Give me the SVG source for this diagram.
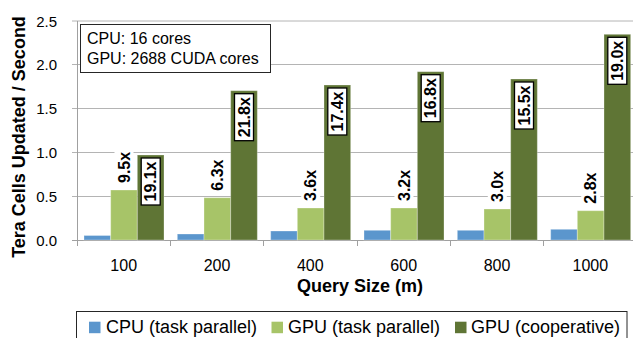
<svg xmlns="http://www.w3.org/2000/svg" width="633" height="338" viewBox="0 0 633 338">
  <style>
    text { font-family: "Liberation Sans", Arial, sans-serif; fill: #000; }
    .grid { stroke: #b4b4b4; stroke-width: 1; }
    .axis { stroke: #a0a0a0; stroke-width: 1; }
    .tick { font-size: 15px; text-anchor: end; }
    .cat { font-size: 16px; text-anchor: middle; }
    .title { font-size: 18px; font-weight: bold; text-anchor: middle; }
    .cpu { fill: #5b96cd; }
    .gtask { fill: #a7c468; }
    .gcoop { fill: #5f7535; }
    .bar { stroke: #ffffff; stroke-opacity: 0.3; stroke-width: 1; }
    .lbl { font-size: 16px; font-weight: bold; dominant-baseline: central; }
    .lblbg { fill: #ffffff; }
    .lblbox { fill: #ffffff; stroke: #000; stroke-width: 1.3; }
    .note { font-size: 16px; }
    .leg { font-size: 18px; }
    .frame { fill: #ffffff; stroke: #262626; stroke-width: 1; }
  </style>
  <rect width="633" height="338" fill="#ffffff"/>

  <!-- gridlines and axes -->
  <g id="axes">
    <line class="grid" x1="72" y1="196.5" x2="633" y2="196.5"/>
    <line class="grid" x1="72" y1="152.5" x2="633" y2="152.5"/>
    <line class="grid" x1="72" y1="108.5" x2="633" y2="108.5"/>
    <line class="grid" x1="72" y1="64.5" x2="633" y2="64.5"/>
    <line class="grid" x1="72" y1="21" x2="633" y2="21"/>
    <line class="axis" x1="77.5" y1="21" x2="77.5" y2="240"/>
    <line class="axis" x1="72" y1="240.5" x2="633" y2="240.5"/>
    <line class="axis" x1="77.5" y1="240" x2="77.5" y2="246"/>
    <line class="axis" x1="170.5" y1="240" x2="170.5" y2="246"/>
    <line class="axis" x1="263.5" y1="240" x2="263.5" y2="246"/>
    <line class="axis" x1="357.5" y1="240" x2="357.5" y2="246"/>
    <line class="axis" x1="450.5" y1="240" x2="450.5" y2="246"/>
    <line class="axis" x1="543.5" y1="240" x2="543.5" y2="246"/>
    <text class="tick" x="57" y="245.5">0.0</text>
    <text class="tick" x="57" y="201.7">0.5</text>
    <text class="tick" x="57" y="157.9">1.0</text>
    <text class="tick" x="57" y="114.1">1.5</text>
    <text class="tick" x="57" y="70.3">2.0</text>
    <text class="tick" x="57" y="26.5">2.5</text>
    <text class="cat" x="123.7" y="271">100</text>
    <text class="cat" x="217" y="271">200</text>
    <text class="cat" x="310.3" y="271">400</text>
    <text class="cat" x="403.7" y="271">600</text>
    <text class="cat" x="497" y="271">800</text>
    <text class="cat" x="590.3" y="271">1000</text>
    <text class="title" x="360" y="292">Query Size (m)</text>
    <text class="title" transform="translate(25,137) rotate(-90)">Tera Cells Updated / Second</text>
  </g>

  <!-- bars -->
  <g id="bars-cpu">
    <rect class="bar cpu" x="84" y="235.5" width="26.67" height="4.5"/>
    <rect class="bar cpu" x="177.33" y="234" width="26.67" height="6"/>
    <rect class="bar cpu" x="270.67" y="231" width="26.67" height="9"/>
    <rect class="bar cpu" x="364" y="230.3" width="26.67" height="9.7"/>
    <rect class="bar cpu" x="457.33" y="230.3" width="26.67" height="9.7"/>
    <rect class="bar cpu" x="550.67" y="229.3" width="26.67" height="10.7"/>
  </g>
  <g id="bars-gpu-task">
    <rect class="bar gtask" x="110.67" y="190" width="26.67" height="50"/>
    <rect class="bar gtask" x="204" y="197.7" width="26.67" height="42.3"/>
    <rect class="bar gtask" x="297.33" y="208" width="26.67" height="32"/>
    <rect class="bar gtask" x="390.67" y="208" width="26.67" height="32"/>
    <rect class="bar gtask" x="484" y="209" width="26.67" height="31"/>
    <rect class="bar gtask" x="577.33" y="210.7" width="26.67" height="29.3"/>
  </g>
  <g id="bars-gpu-coop">
    <rect class="bar gcoop" x="137.33" y="155" width="26.67" height="85"/>
    <rect class="bar gcoop" x="230.67" y="90.7" width="26.67" height="149.3"/>
    <rect class="bar gcoop" x="324" y="85" width="26.67" height="155"/>
    <rect class="bar gcoop" x="417.33" y="71.7" width="26.67" height="168.3"/>
    <rect class="bar gcoop" x="510.67" y="79" width="26.67" height="161"/>
    <rect class="bar gcoop" x="604" y="34.3" width="26.67" height="205.7"/>
  </g>

  <!-- speed-up labels over the task-parallel GPU bars -->
  <g id="labels-task">
    <rect class="lblbg" x="114.5" y="148" width="19" height="38"/>
    <text class="lbl" transform="translate(124,183) rotate(-90)">9.5x</text>
    <rect class="lblbg" x="207.8" y="155.7" width="19" height="38"/>
    <text class="lbl" transform="translate(217.3,190.7) rotate(-90)">6.3x</text>
    <rect class="lblbg" x="301.2" y="166" width="19" height="38"/>
    <text class="lbl" transform="translate(310.7,201) rotate(-90)">3.6x</text>
    <rect class="lblbg" x="394.5" y="166" width="19" height="38"/>
    <text class="lbl" transform="translate(404,201) rotate(-90)">3.2x</text>
    <rect class="lblbg" x="487.8" y="167" width="19" height="38"/>
    <text class="lbl" transform="translate(497.3,202) rotate(-90)">3.0x</text>
    <rect class="lblbg" x="581.2" y="168.7" width="19" height="38"/>
    <text class="lbl" transform="translate(590.7,203.7) rotate(-90)">2.8x</text>
  </g>

  <!-- boxed speed-up labels inside the cooperative GPU bars -->
  <g id="labels-coop">
    <rect class="lblbox" x="141.2" y="158" width="19" height="47"/>
    <text class="lbl" text-anchor="middle" transform="translate(150.7,181.5) rotate(-90)">19.1x</text>
    <rect class="lblbox" x="234.5" y="93.7" width="19" height="47"/>
    <text class="lbl" text-anchor="middle" transform="translate(244,117.2) rotate(-90)">21.8x</text>
    <rect class="lblbox" x="327.8" y="88" width="19" height="47"/>
    <text class="lbl" text-anchor="middle" transform="translate(337.3,111.5) rotate(-90)">17.4x</text>
    <rect class="lblbox" x="421.2" y="74.7" width="19" height="47"/>
    <text class="lbl" text-anchor="middle" transform="translate(430.7,98.2) rotate(-90)">16.8x</text>
    <rect class="lblbox" x="514.5" y="82" width="19" height="47"/>
    <text class="lbl" text-anchor="middle" transform="translate(524,105.5) rotate(-90)">15.5x</text>
    <rect class="lblbox" x="607.8" y="37.3" width="19" height="47"/>
    <text class="lbl" text-anchor="middle" transform="translate(617.3,60.8) rotate(-90)">19.0x</text>
  </g>

  <!-- hardware note -->
  <g id="note">
    <rect class="frame" x="80.5" y="24.5" width="190" height="48"/>
    <text class="note" x="87" y="43.5">CPU: 16 cores</text>
    <text class="note" x="87" y="63.5">GPU: 2688 CUDA cores</text>
  </g>

  <!-- legend -->
  <g id="legend">
    <rect class="frame" x="76.5" y="311.5" width="550.5" height="40"/>
    <rect class="cpu" x="89" y="321.7" width="11.5" height="11.5"/>
    <text class="leg" x="106" y="333.3">CPU (task parallel)</text>
    <rect class="gtask" x="271.5" y="321.7" width="11.5" height="11.5"/>
    <text class="leg" x="288" y="333.3">GPU (task parallel)</text>
    <rect class="gcoop" x="455" y="321.7" width="11.5" height="11.5"/>
    <text class="leg" x="471" y="333.3">GPU (cooperative)</text>
  </g>
</svg>
